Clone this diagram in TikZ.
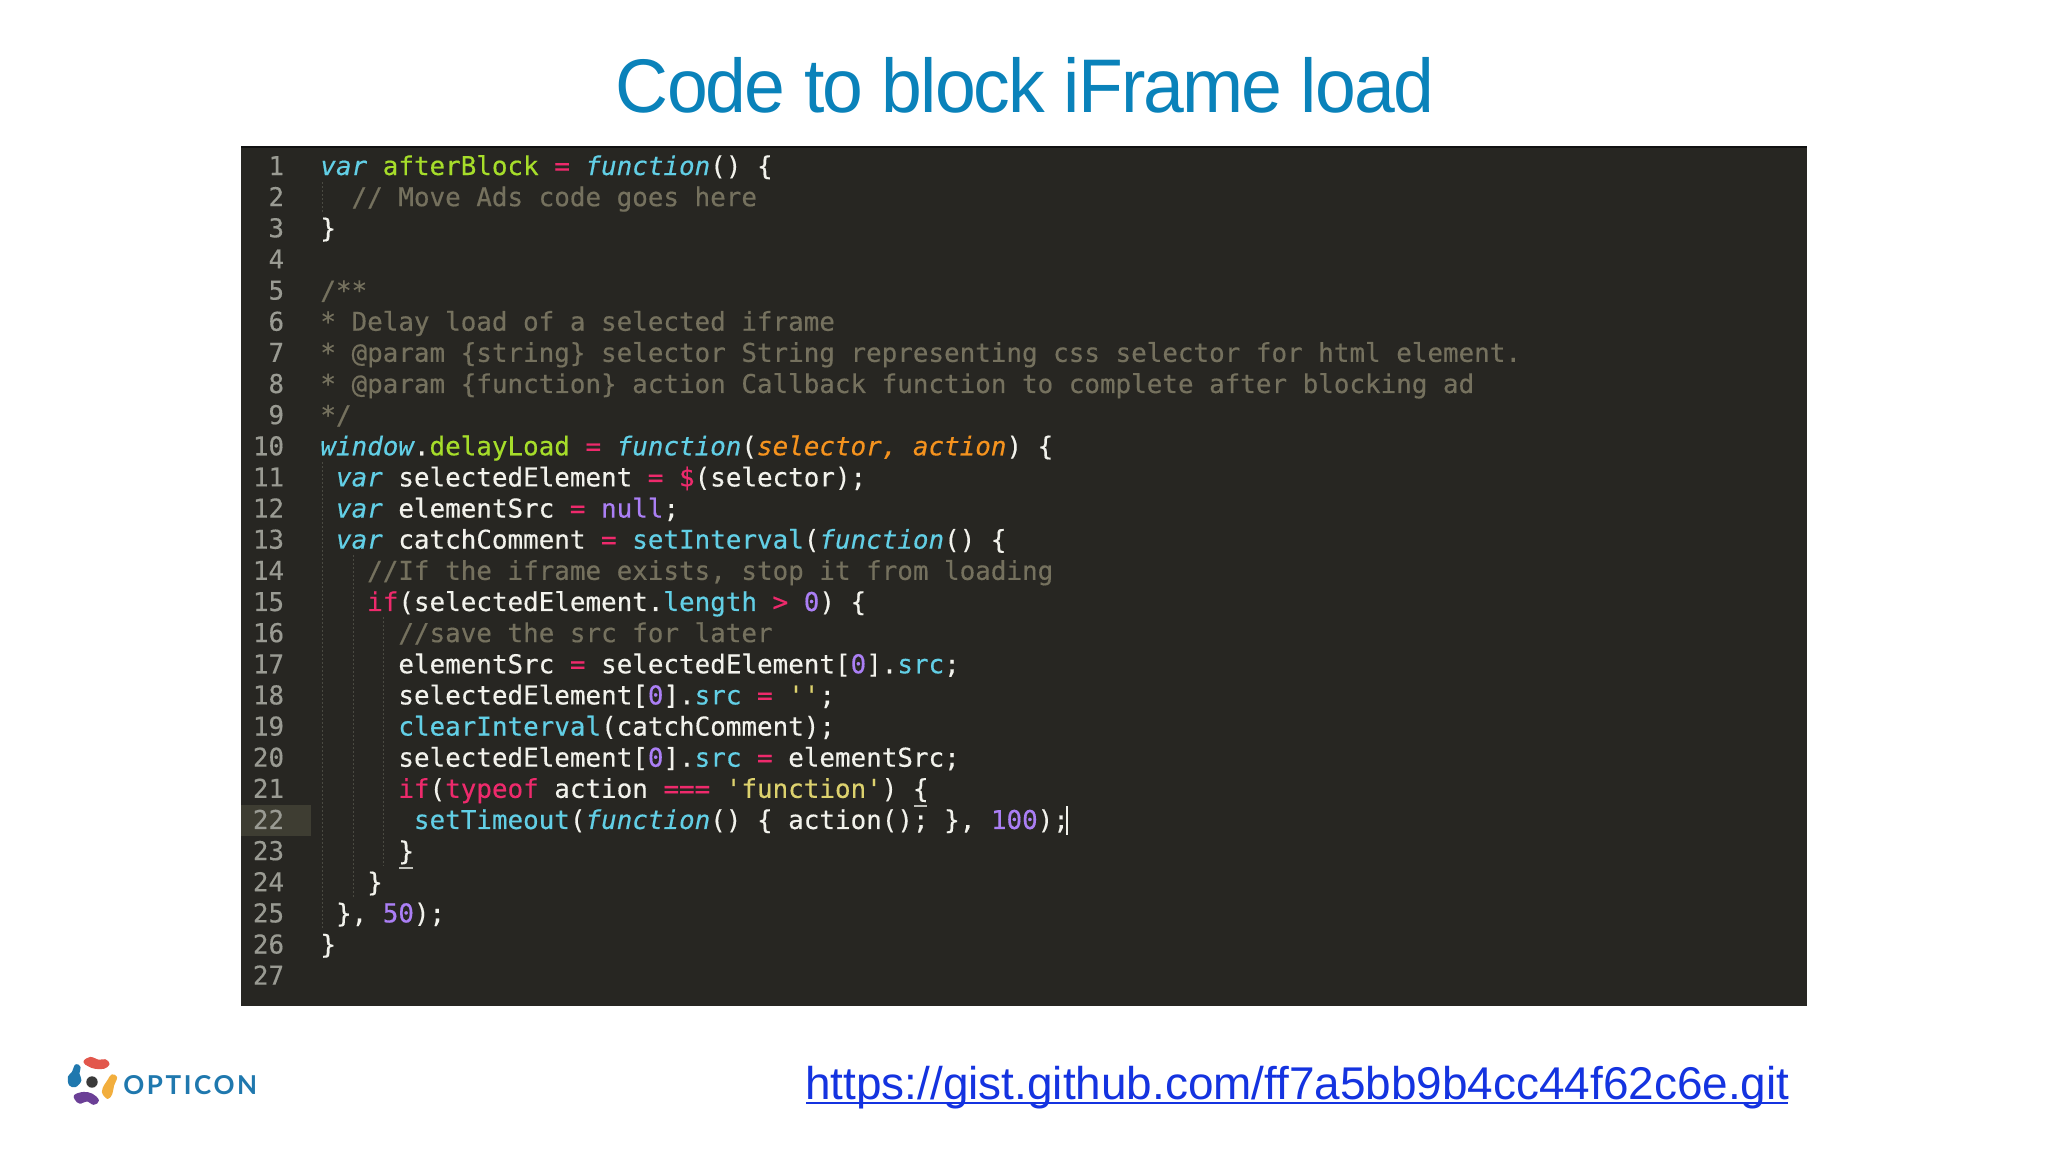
\documentclass[tikz,border=0pt]{standalone}
\usepackage{fontspec}
\setmainfont{Liberation Sans}
\newfontfamily\codefont[FakeBold=0.4]{DejaVu Sans Mono}
\newfontfamily\titlefont[LetterSpace=-2.5,FakeStretch=0.965]{Liberation Sans}
\newfontfamily\urlfont{Liberation Sans}
\newfontfamily\logofont[LetterSpace=10]{Lato Bold}
\definecolor{panel}{HTML}{272622}
\definecolor{topline}{HTML}{111111}
\definecolor{gutterhl}{HTML}{3E3D32}
\definecolor{numcol}{HTML}{9A9B93}
\definecolor{plain}{HTML}{F2F2EC}
\definecolor{kwblue}{HTML}{62CFE6}
\definecolor{fgreen}{HTML}{A6DD2A}
\definecolor{pinkop}{HTML}{EE2A6C}
\definecolor{argorange}{HTML}{F5931E}
\definecolor{purp}{HTML}{AB7FF5}
\definecolor{yel}{HTML}{DDD26E}
\definecolor{comm}{HTML}{75715E}
\definecolor{guide}{HTML}{4A4A42}
\definecolor{titleblue}{HTML}{0A82BA}
\definecolor{urlblue}{HTML}{1433E0}
\definecolor{logoblue}{HTML}{1F78AE}
\definecolor{logored}{HTML}{E2574C}
\definecolor{logoyellow}{HTML}{F2AE3D}
\definecolor{logopurple}{HTML}{6B3F96}
\definecolor{logodark}{HTML}{3A3A3A}
\newcommand\kw[1]{\textcolor{kwblue}{\itshape #1}}
\newcommand\bl[1]{\textcolor{kwblue}{#1}}
\newcommand\gr[1]{\textcolor{fgreen}{#1}}
\newcommand\pk[1]{\textcolor{pinkop}{#1}}
\newcommand\og[1]{\textcolor{argorange}{\itshape #1}}
\newcommand\pu[1]{\textcolor{purp}{#1}}
\newcommand\ye[1]{\textcolor{yel}{#1}}
\newcommand\cm[1]{\textcolor{comm}{#1}}
\newcommand\cl[3]{%
  \node[numstyle] (n#1) at (284.5,{175+31.14*(#1-1)}) {#1};
  \node[codestyle] (c#1) at ({320+15.6*#2},{175+31.14*(#1-1)}) {#3};}
\newcommand\nl[1]{\node[numstyle] (n#1) at (284.5,{175+31.14*(#1-1)}) {#1};}
\tikzset{
  numstyle/.style={anchor=base east,inner sep=0,font=\codefont\fontsize{12.95}{14}\selectfont,text=numcol},
  codestyle/.style={anchor=base west,inner sep=0,font=\codefont\fontsize{12.95}{14}\selectfont\frenchspacing,text=plain},
  guideline/.style={guide,line width=0.5pt,dash pattern=on 1pt off 1pt},
  markline/.style={plain!75!panel,line width=0.7pt},
  logopart/.style={line width=1.1pt,line join=round}
}
\begin{document}
\begin{tikzpicture}[x=0.5pt,y=-0.5pt]
\useasboundingbox (0,0) rectangle (2048,1152);
\fill[white] (0,0) rectangle (2048,1152);
% title
\node[anchor=base,inner sep=0,text=titleblue,font=\titlefont\fontsize{38}{40}\selectfont] (title) at (1025,112) {Code to block iFrame load};
% panel
\fill[panel] (241,146) rectangle (1807,1006);
\draw[topline,line width=1pt] (241,146.5) -- (1807,146.5);
\fill[gutterhl] (241,805) rectangle (311,836);
% indent guides
\draw[guideline] (322,182) -- (322,212);
\draw[guideline] (322,462) -- (322,928);
\draw[guideline] (353,555) -- (353,897);
\draw[guideline] (383,617) -- (383,866);
% code
\cl{1}{0}{\kw{var} \gr{afterBlock} \pk{=} \kw{function}() \{}
\cl{2}{2}{\cm{// Move Ads code goes here}}
\cl{3}{0}{\}}
\nl{4}
\cl{5}{0}{\cm{/**}}
\cl{6}{0}{\cm{* Delay load of a selected iframe}}
\cl{7}{0}{\cm{* @param \{string\} selector String representing css selector for html element.}}
\cl{8}{0}{\cm{* @param \{function\} action Callback function to complete after blocking ad}}
\cl{9}{0}{\cm{*/}}
\cl{10}{0}{\kw{window}.\gr{delayLoad} \pk{=} \kw{function}(\og{selector, action}) \{}
\cl{11}{1}{\kw{var} selectedElement \pk{=} \pk{\$}(selector);}
\cl{12}{1}{\kw{var} elementSrc \pk{=} \pu{null};}
\cl{13}{1}{\kw{var} catchComment \pk{=} \bl{setInterval}(\kw{function}() \{}
\cl{14}{3}{\cm{//If the iframe exists, stop it from loading}}
\cl{15}{3}{\pk{if}(selectedElement.\bl{length} \pk{>} \pu{0}) \{}
\cl{16}{5}{\cm{//save the src for later}}
\cl{17}{5}{elementSrc \pk{=} selectedElement[\pu{0}].\bl{src};}
\cl{18}{5}{selectedElement[\pu{0}].\bl{src} \pk{=} \ye{''};}
\cl{19}{5}{\bl{clearInterval}(catchComment);}
\cl{20}{5}{selectedElement[\pu{0}].\bl{src} \pk{=} elementSrc;}
\cl{21}{5}{\pk{if}(\pk{typeof} action \pk{===} \ye{'function'}) \{}
\cl{22}{6}{\bl{setTimeout}(\kw{function}() \{ action(); \}, \pu{100});}
\cl{23}{5}{\}}
\cl{24}{3}{\}}
\cl{25}{1}{\}, \pu{50});}
\cl{26}{0}{\}}
\nl{27}
% bracket marks and caret
\draw[markline] (399,868) -- (413,868);
\draw[markline] (914,806) -- (927,806);
\draw[plain,line width=0.7pt] (1067,806) -- (1067,835);
% url
\node[anchor=base west,inner sep=0,text=urlblue,font=\urlfont\fontsize{22.95}{24}\selectfont] (url) at (805,1099) {https://gist.github.com/ff7a5bb9b4cc44f62c6e.git};
\draw[urlblue,line width=1.2pt] (url.base west) ++(1,4) -- ++(982,0);
% logo
\fill[logodark] (92,1082) circle (5.7);
\filldraw[logopart,logored] plot[smooth cycle,tension=0.6] coordinates {(84.5,1061.8) (90.3,1058) (98.7,1060.8) (105,1060.3) (108.5,1064) (103.7,1067.7) (95.3,1067.7) (89,1065.5)};
\filldraw[logopart,logoyellow] plot[smooth cycle,tension=0.6] coordinates {(112,1075.5) (116,1077.5) (113,1085.3) (111.3,1093.5) (107.7,1097.8) (103,1092) (105.3,1085.3) (108.5,1080.5)};
\filldraw[logopart,logopurple] plot[smooth cycle,tension=0.6] coordinates {(75,1095.8) (83.7,1093) (92,1094.7) (97.8,1100.3) (93.7,1103.7) (87,1100.3) (80.3,1102.7) (77.5,1101.3)};
\filldraw[logopart,logoblue] plot[smooth cycle,tension=0.6] coordinates {(76,1065.3) (79.5,1067.5) (78.3,1073.7) (80.3,1080.3) (75.3,1086) (70,1084.5) (69,1077) (72.8,1072.5)};
\node[anchor=base west,inner sep=0,text=logoblue,font=\logofont\fontsize{13}{14}\selectfont] (logo) at (123,1094) {OPTICON};
\end{tikzpicture}
\end{document}
